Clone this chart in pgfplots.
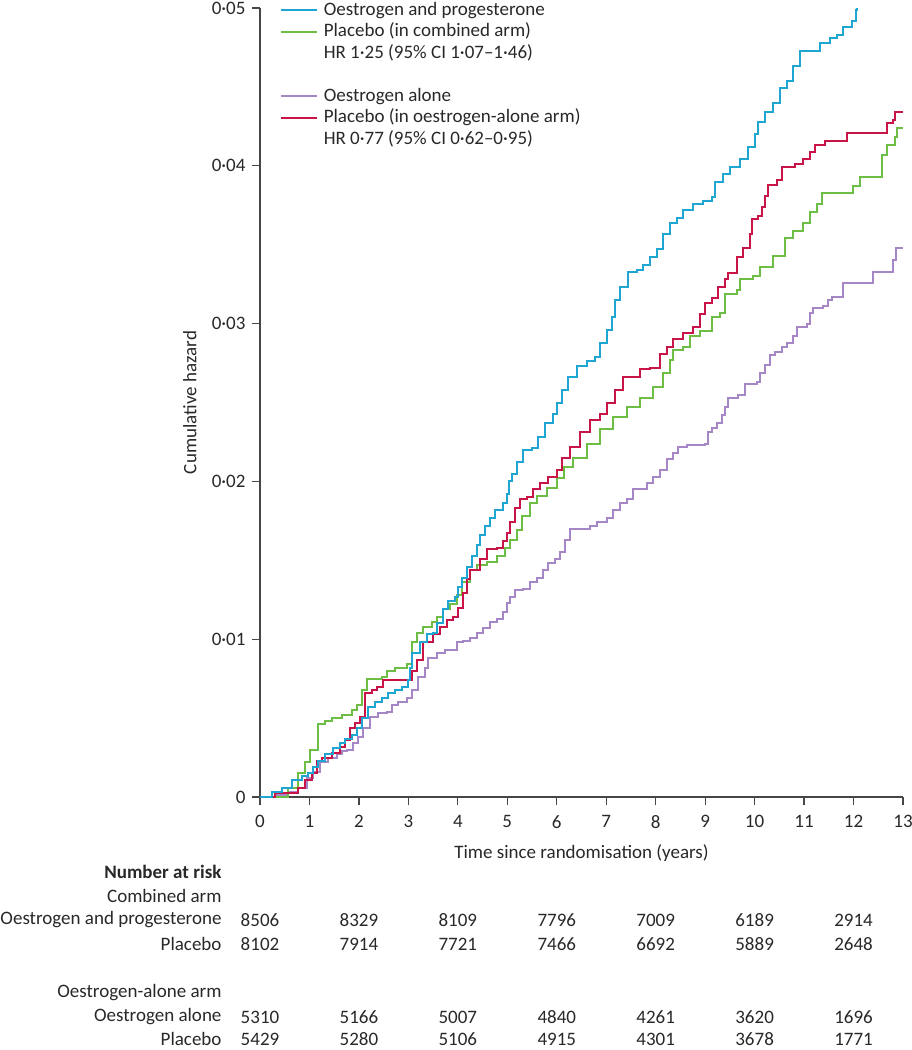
\documentclass[border=0pt]{standalone}
\usepackage{pgfplots}
\pgfplotsset{compat=1.18}
\usepackage{fontspec}
\setmainfont{Carlito}
\definecolor{cblue}{RGB}{30,165,210}
\definecolor{cgreen}{RGB}{110,190,70}
\definecolor{cpurple}{RGB}{165,135,200}
\definecolor{cred}{RGB}{200,20,70}
\definecolor{axgray}{RGB}{70,70,70}
\definecolor{txt}{RGB}{40,40,40}

\newcommand{\riskrow}[8]{%
  \node[anchor=east,yshift=-#1pt,xshift=-32pt] at (axis cs:0,0) {#2};
  \node[yshift=-#1pt] at (axis cs:0,0) {#3};
  \node[yshift=-#1pt] at (axis cs:2,0) {#4};
  \node[yshift=-#1pt] at (axis cs:4,0) {#5};
  \node[yshift=-#1pt] at (axis cs:6,0) {#6};
  \node[yshift=-#1pt] at (axis cs:8,0) {#7};
  \node[yshift=-#1pt] at (axis cs:10,0) {#8};
}

\begin{document}
\fontsize{19}{22}\selectfont
\color{txt}
\begin{tikzpicture}
\useasboundingbox (-260pt,-253pt) rectangle (651pt,797pt);
\begin{axis}[
  scale only axis, width=643pt, height=789pt,
  xmin=0, xmax=13, ymin=0, ymax=0.05,
  axis lines*=left,
  axis line style={axgray, line width=1.5pt},
  tick style={axgray, line width=1.2pt},
  tick align=outside, major tick length=8pt,
  xtick={0,1,2,3,4,5,6,7,8,9,10,11,12,13},
  xticklabels={0,1,2,3,4,5,6,7,8,9,10,11,12,13},
  xticklabel style={yshift=-4pt},
  ytick={0,0.01,0.02,0.03,0.04,0.05},
  yticklabels={0,0·01,0·02,0·03,0·04,0·05},
  scaled y ticks=false,
  xlabel={Time since randomisation (years)},
  ylabel={Cumulative hazard},
  xlabel style={at={(axis description cs:0.5,0)}, anchor=center, yshift=-56pt},
  ylabel style={at={(axis description cs:-0.109,0.5)}, anchor=center},
  clip=false,
  legend image code/.code={\draw[#1] (0pt,0pt) -- (36pt,0pt);},
  legend style={at={(axis description cs:0,1)}, anchor=north west, xshift=20pt, yshift=7pt,
    draw=none, fill=none, inner sep=0pt, row sep=3.5pt, column sep=6pt,
    nodes={inner sep=0pt, text height=14pt, text depth=4pt}},
  legend cell align=left,
]
\addlegendimage{cblue, line width=1.6pt}\addlegendentry{Oestrogen and progesterone}
\addlegendimage{cgreen, line width=1.6pt}\addlegendentry{Placebo (in combined arm)}
\addlegendimage{empty legend}\addlegendentry{HR 1·25 (95\% CI 1·07–1·46)}
\addlegendimage{empty legend}\addlegendentry{\strut}
\addlegendimage{cpurple, line width=1.6pt}\addlegendentry{Oestrogen alone}
\addlegendimage{cred, line width=1.6pt}\addlegendentry{Placebo (in oestrogen-alone arm)}
\addlegendimage{empty legend}\addlegendentry{HR 0·77 (95\% CI 0·62–0·95)}

% Oestrogen alone (purple)
\addplot[cpurple, const plot mark left, line width=2pt, forget plot] coordinates {
(0,0) (0.30,0.0001) (0.57,0.0003) (0.77,0.0006) (0.95,0.0012) (1.07,0.0016)
(1.21,0.0022) (1.37,0.0025) (1.56,0.0027) (1.66,0.0029) (1.76,0.0030) (1.88,0.0034)
(1.98,0.0038) (2.08,0.0044) (2.22,0.0051) (2.39,0.0053) (2.57,0.0054) (2.67,0.0058)
(2.79,0.0060) (2.97,0.0063) (3.07,0.0068) (3.19,0.0076) (3.34,0.0082) (3.40,0.0088)
(3.58,0.0091) (3.74,0.0093) (3.98,0.0098) (4.10,0.0099) (4.25,0.0101) (4.39,0.0104)
(4.51,0.0107) (4.65,0.0111) (4.79,0.0113) (4.91,0.0117) (4.99,0.0123) (5.05,0.0127)
(5.16,0.0131) (5.32,0.0132) (5.46,0.0136) (5.60,0.0139) (5.72,0.0144) (5.82,0.0148)
(5.96,0.0151) (6.07,0.0155) (6.17,0.0163) (6.27,0.0170) (6.67,0.0172) (6.81,0.0174)
(7.02,0.0177) (7.14,0.0182) (7.28,0.0186) (7.42,0.0189) (7.54,0.0195) (7.82,0.0199)
(7.95,0.0203) (8.09,0.0207) (8.23,0.0214) (8.35,0.0218) (8.45,0.0222) (8.63,0.0223)
(9.00,0.0224) (9.06,0.0231) (9.14,0.0234) (9.24,0.0237) (9.34,0.0242) (9.40,0.0247)
(9.46,0.0253) (9.66,0.0255) (9.81,0.0262) (10.05,0.0263) (10.11,0.0269) (10.21,0.0274)
(10.31,0.0280) (10.41,0.0282) (10.55,0.0285) (10.66,0.0288) (10.78,0.0292) (10.86,0.0298)
(11.06,0.0300) (11.12,0.0307) (11.18,0.0310) (11.38,0.0311) (11.48,0.0315) (11.57,0.0317)
(11.79,0.0326) (12.39,0.0333) (12.80,0.0340) (12.86,0.0348) (13.0,0.0348)
};
% Placebo combined arm (green)
\addplot[cgreen, const plot mark left, line width=2pt, forget plot] coordinates {
(0,0) (0.57,0.0006) (0.77,0.0015) (0.91,0.0022) (1.01,0.0030) (1.17,0.0046)
(1.31,0.0048) (1.46,0.0050) (1.66,0.0052) (1.86,0.0055) (1.96,0.0058) (2.06,0.0068)
(2.16,0.0075) (2.47,0.0076) (2.57,0.0080) (2.73,0.0082) (2.97,0.0084) (3.07,0.0098)
(3.17,0.0104) (3.30,0.0108) (3.48,0.0111) (3.58,0.0114) (3.70,0.0119) (3.84,0.0122)
(3.98,0.0128) (4.08,0.0136) (4.25,0.0144) (4.39,0.0147) (4.59,0.0149) (4.79,0.0153)
(4.95,0.0158) (5.05,0.0163) (5.20,0.0169) (5.30,0.0178) (5.46,0.0186) (5.60,0.0191)
(5.80,0.0196) (6.00,0.0202) (6.15,0.0209) (6.33,0.0215) (6.61,0.0224) (6.87,0.0233)
(7.14,0.0241) (7.42,0.0247) (7.68,0.0253) (7.95,0.0260) (8.15,0.0269) (8.29,0.0277)
(8.35,0.0283) (8.55,0.0285) (8.69,0.0292) (8.90,0.0295) (9.14,0.0304) (9.30,0.0307)
(9.40,0.0319) (9.64,0.0321) (9.70,0.0328) (9.97,0.0330) (10.11,0.0336) (10.37,0.0343)
(10.61,0.0354) (10.78,0.0359) (10.98,0.0364) (11.12,0.0371) (11.26,0.0376) (11.36,0.0383)
(11.99,0.0387) (12.13,0.0393) (12.58,0.0407) (12.68,0.0413) (12.84,0.0418) (12.88,0.0424)
(13.0,0.0424)
};
% Placebo oestrogen-alone arm (red)
\addplot[cred, const plot mark left, line width=2pt, forget plot] coordinates {
(0,0) (0.30,0.00025) (0.77,0.0006) (0.91,0.0011) (1.05,0.0015) (1.15,0.0023)
(1.25,0.0025) (1.46,0.0028) (1.62,0.0032) (1.72,0.0036) (1.82,0.0044) (1.92,0.0047)
(2.02,0.0051) (2.12,0.0066) (2.26,0.0068) (2.37,0.0070) (2.49,0.0074) (3.07,0.0080)
(3.17,0.0087) (3.30,0.0098) (3.50,0.0103) (3.64,0.0108) (3.78,0.0112) (3.90,0.0114)
(4.00,0.0120) (4.10,0.0129) (4.19,0.0138) (4.25,0.0144) (4.45,0.0151) (4.59,0.0157)
(4.79,0.0158) (4.91,0.0162) (4.99,0.0167) (5.05,0.0174) (5.16,0.0183) (5.26,0.0189)
(5.40,0.0190) (5.52,0.0195) (5.66,0.0199) (5.82,0.0203) (6.00,0.0207) (6.11,0.0215)
(6.27,0.0222) (6.47,0.0231) (6.67,0.0239) (6.87,0.0243) (7.02,0.0250) (7.18,0.0258)
(7.34,0.0266) (7.68,0.0271) (7.89,0.0272) (8.09,0.0281) (8.23,0.0285) (8.35,0.0290)
(8.55,0.0294) (8.75,0.0298) (8.90,0.0306) (9.00,0.0313) (9.14,0.0316) (9.26,0.0323)
(9.40,0.0328) (9.46,0.0332) (9.64,0.0342) (9.77,0.0348) (9.91,0.0357) (9.95,0.0366)
(10.07,0.0368) (10.15,0.0374) (10.21,0.0381) (10.27,0.0388) (10.45,0.0391) (10.55,0.0399)
(10.82,0.0401) (10.98,0.0404) (11.12,0.0409) (11.22,0.0413) (11.42,0.0416) (11.87,0.0421)
(12.68,0.0427) (12.80,0.0429) (12.84,0.0434) (13.0,0.0434)
};
% Oestrogen and progesterone (blue)
\addplot[cblue, const plot mark left, line width=2pt, forget plot] coordinates {
(0,0) (0.24,0.0003) (0.44,0.0006) (0.65,0.0011) (0.85,0.0013) (0.97,0.0015)
(1.07,0.0019) (1.17,0.0023) (1.31,0.0027) (1.48,0.0031) (1.62,0.0034) (1.72,0.0037)
(1.86,0.0039) (1.96,0.0044) (2.06,0.0050) (2.18,0.0057) (2.33,0.0060) (2.47,0.0063)
(2.59,0.0066) (2.73,0.0068) (2.87,0.0070) (2.99,0.0074) (3.03,0.0082) (3.07,0.0091)
(3.23,0.0098) (3.38,0.0103) (3.50,0.0104) (3.58,0.0110) (3.70,0.0119) (3.80,0.0124)
(3.94,0.0127) (4.00,0.0133) (4.08,0.0139) (4.19,0.0146) (4.29,0.0153) (4.39,0.0160)
(4.45,0.0166) (4.55,0.0172) (4.65,0.0177) (4.75,0.0182) (4.91,0.0186) (4.99,0.0192)
(5.03,0.0200) (5.10,0.0205) (5.20,0.0212) (5.32,0.0220) (5.50,0.0221) (5.62,0.0228)
(5.76,0.0237) (5.92,0.0243) (6.00,0.0250) (6.11,0.0258) (6.23,0.0266) (6.41,0.0273)
(6.61,0.0276) (6.77,0.0279) (6.87,0.0288) (7.02,0.0296) (7.12,0.0304) (7.18,0.0315)
(7.28,0.0323) (7.44,0.0333) (7.62,0.0334) (7.74,0.0337) (7.89,0.0342) (8.03,0.0347)
(8.15,0.0357) (8.29,0.0364) (8.43,0.0367) (8.55,0.0372) (8.75,0.0376) (8.96,0.0378)
(9.14,0.0380) (9.20,0.0390) (9.36,0.0395) (9.50,0.0399) (9.70,0.0404) (9.87,0.0412)
(10.01,0.0420) (10.07,0.0428) (10.21,0.0434) (10.37,0.0440) (10.51,0.0449) (10.66,0.0454)
(10.78,0.0463) (10.92,0.0473) (11.32,0.0478) (11.52,0.0481) (11.67,0.0483) (11.79,0.0488)
(11.97,0.0492) (12.05,0.0499) (12.08,0.0500)
};

\node[anchor=east,yshift=-75pt,xshift=-32pt] at (axis cs:0,0) {\bfseries Number at risk};
\node[anchor=east,yshift=-99pt,xshift=-32pt] at (axis cs:0,0) {Combined arm};
\riskrow{123}{Oestrogen and progesterone}{8506}{8329}{8109}{7796}{7009}{6189}
\node[yshift=-123pt] at (axis cs:12,0) {2914};
\riskrow{147}{Placebo}{8102}{7914}{7721}{7466}{6692}{5889}
\node[yshift=-147pt] at (axis cs:12,0) {2648};
\node[anchor=east,yshift=-196pt,xshift=-32pt] at (axis cs:0,0) {Oestrogen-alone arm};
\riskrow{220}{Oestrogen alone}{5310}{5166}{5007}{4840}{4261}{3620}
\node[yshift=-220pt] at (axis cs:12,0) {1696};
\riskrow{242}{Placebo}{5429}{5280}{5106}{4915}{4301}{3678}
\node[yshift=-242pt] at (axis cs:12,0) {1771};
\end{axis}
\end{tikzpicture}
\end{document}
